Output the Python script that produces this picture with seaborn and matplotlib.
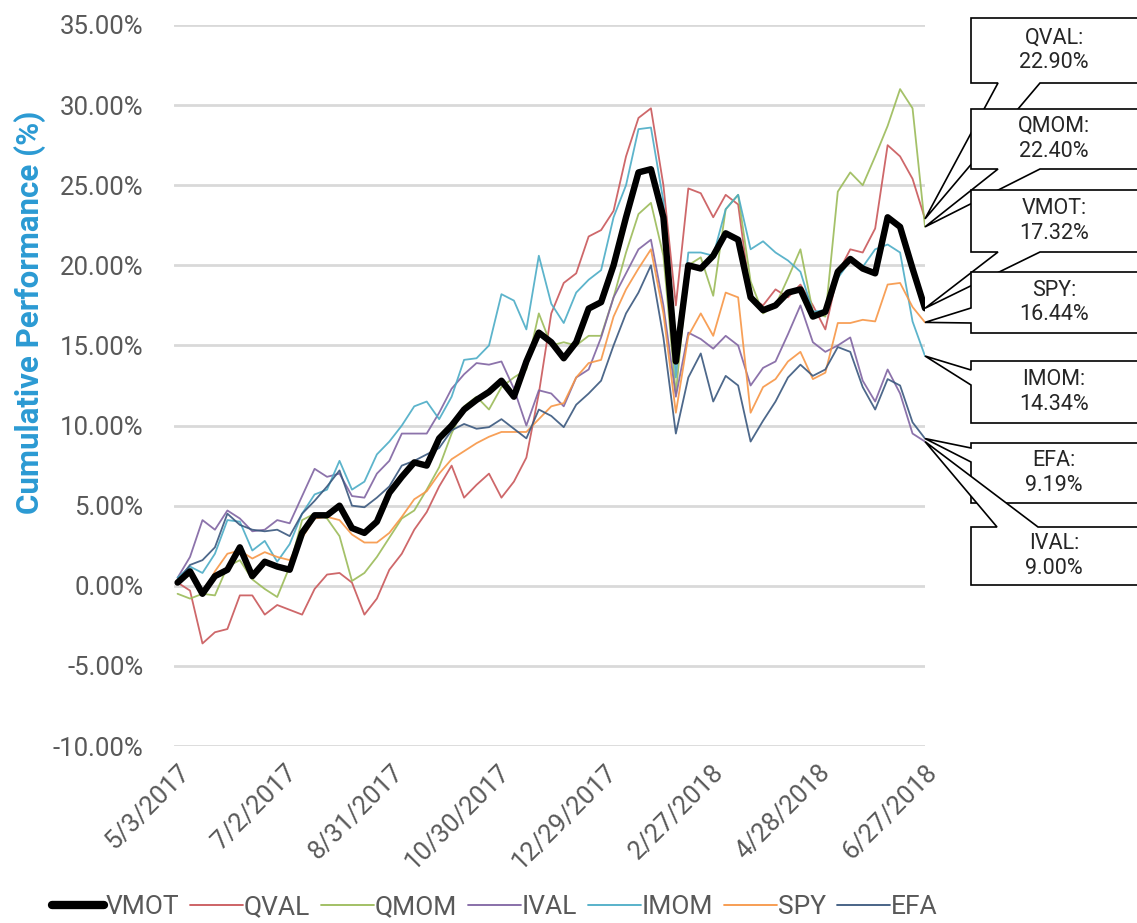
import seaborn as sns
import matplotlib.pyplot as plt
import matplotlib.dates as mdates
from matplotlib.patches import Polygon
from matplotlib.lines import Line2D
import pandas as pd
import numpy as np

# Weekly sampled dates (5/3/2017 .. 6/27/2018)
dates = pd.date_range("2017-05-03", "2018-06-27", freq="7D")

# Cumulative performance (%), one value per week
vmot = [0.2, 0.9, -0.5, 0.6, 1.0, 2.4, 0.6, 1.5, 1.2, 1.0,
        3.3, 4.4, 4.4, 5.0, 3.6, 3.3, 4.0, 5.8, 6.8, 7.7,
        7.5, 9.2, 10.0, 11.0, 11.6, 12.1, 12.8, 11.8, 14.0, 15.8,
        15.2, 14.2, 15.2, 17.3, 17.7, 20.0, 23.0, 25.8, 26.0, 23.0,
        14.0, 20.0, 19.8, 20.6, 22.0, 21.6, 18.0, 17.2, 17.5, 18.3,
        18.5, 16.8, 17.1, 19.6, 20.4, 19.8, 19.5, 23.0, 22.4, 19.8,
        17.32]
qval = [0.2, -0.3, -3.6, -2.9, -2.7, -0.6, -0.6, -1.8, -1.2, -1.5,
        -1.8, -0.2, 0.7, 0.8, 0.2, -1.8, -0.8, 1.0, 2.0, 3.5,
        4.6, 6.2, 7.5, 5.5, 6.3, 7.0, 5.5, 6.5, 8.0, 12.0,
        17.0, 18.9, 19.5, 21.8, 22.2, 23.4, 26.8, 29.2, 29.8, 25.0,
        17.5, 24.8, 24.5, 23.0, 24.4, 23.8, 18.0, 17.5, 18.5, 18.0,
        18.8, 17.5, 16.0, 19.5, 21.0, 20.8, 22.3, 27.5, 26.8, 25.4,
        22.90]
qmom = [-0.5, -0.8, -0.5, -0.6, 1.2, 1.6, 0.4, -0.2, -0.7, 1.2,
        4.1, 4.5, 4.2, 3.1, 0.3, 0.8, 1.8, 3.0, 4.2, 4.7,
        6.0, 7.4, 9.5, 11.2, 11.8, 11.0, 12.4, 13.0, 13.5, 17.0,
        15.0, 15.2, 15.0, 15.6, 15.6, 18.0, 20.8, 23.2, 23.9, 20.6,
        12.0, 20.0, 20.5, 18.1, 23.5, 24.4, 19.0, 17.0, 17.5, 19.2,
        21.0, 17.1, 16.8, 24.6, 25.8, 25.0, 26.8, 28.7, 31.0, 29.8,
        22.40]
ival = [0.5, 1.8, 4.1, 3.5, 4.7, 4.2, 3.4, 3.5, 4.1, 3.9,
        5.6, 7.3, 6.8, 7.0, 5.6, 5.5, 7.0, 7.8, 9.5, 9.5,
        9.5, 10.8, 12.3, 13.2, 13.9, 13.8, 14.0, 12.3, 10.0, 12.2,
        12.0, 11.2, 13.0, 13.5, 15.5, 18.0, 19.5, 21.0, 21.6, 17.5,
        11.8, 15.8, 15.4, 14.8, 15.6, 15.0, 12.5, 13.6, 14.0, 15.7,
        17.5, 15.2, 14.6, 15.0, 15.5, 12.8, 11.5, 13.5, 12.0, 9.5,
        9.00]
imom = [0.5, 1.2, 0.8, 2.0, 4.1, 4.0, 2.2, 2.8, 1.5, 2.6,
        4.5, 5.7, 6.0, 7.8, 6.0, 6.5, 8.2, 9.0, 10.0, 11.2,
        11.5, 10.4, 11.8, 14.1, 14.2, 15.0, 18.2, 17.8, 16.0, 20.6,
        17.6, 16.4, 18.3, 19.1, 19.7, 23.0, 25.0, 28.5, 28.6, 24.0,
        13.0, 20.8, 20.8, 20.6, 23.5, 24.4, 21.0, 21.5, 20.8, 20.3,
        19.6, 17.1, 17.2, 19.2, 20.3, 19.9, 21.0, 21.3, 20.8, 16.5,
        14.34]
spy = [0.2, 0.7, -0.6, 0.9, 2.0, 2.2, 1.7, 2.1, 1.8, 1.6,
       3.0, 4.2, 4.3, 4.1, 3.2, 2.7, 2.7, 3.3, 4.3, 5.4,
       5.9, 7.0, 7.9, 8.4, 8.9, 9.3, 9.6, 9.6, 9.6, 10.4,
       11.2, 11.4, 13.0, 13.9, 14.1, 16.8, 18.5, 19.8, 21.0, 17.0,
       10.8, 15.6, 17.0, 15.6, 18.3, 18.0, 10.8, 12.4, 12.9, 14.0,
       14.6, 12.9, 13.3, 16.4, 16.4, 16.6, 16.5, 18.8, 18.9, 17.4,
       16.44]
efa = [0.3, 1.3, 1.6, 2.4, 4.5, 3.8, 3.5, 3.4, 3.5, 3.1,
       4.5, 5.3, 6.2, 7.2, 5.0, 4.9, 5.5, 6.2, 7.5, 7.8,
       8.2, 8.6, 9.7, 10.1, 9.8, 9.9, 10.4, 9.8, 9.2, 11.0,
       10.6, 9.9, 11.3, 12.0, 12.8, 15.0, 17.0, 18.3, 20.0, 15.5,
       9.5, 13.0, 14.5, 11.5, 13.1, 12.5, 9.0, 10.3, 11.5, 13.0,
       13.8, 13.1, 13.5, 14.9, 14.6, 12.4, 11.0, 12.9, 12.5, 10.2,
       9.19]

series_names = ["VMOT", "QVAL", "QMOM", "IVAL", "IMOM", "SPY", "EFA"]
series_values = [vmot, qval, qmom, ival, imom, spy, efa]
final_labels = ["17.32%", "22.90%", "22.40%", "9.00%", "14.34%", "16.44%", "9.19%"]

tick_dates = ["2017-05-03", "2017-07-02", "2017-08-31", "2017-10-30",
              "2017-12-29", "2018-02-27", "2018-04-28", "2018-06-27"]
tick_labels = ["5/3/2017", "7/2/2017", "8/31/2017", "10/30/2017",
               "12/29/2017", "2/27/2018", "4/28/2018", "6/27/2018"]

colors = {"VMOT": "#000000", "QVAL": "#C9575A", "QMOM": "#9BBB59",
          "IVAL": "#8064A2", "IMOM": "#4BACC6", "SPY": "#F79646",
          "EFA": "#3A587E"}

sns.set_style("white")
plt.rcParams["font.family"] = ["Roboto", "DejaVu Sans"]

W, H = 1137, 923
fig = plt.figure(figsize=(W / 100, H / 100), dpi=100)
ax = fig.add_axes([174 / W, 1 - 746 / H, (925 - 174) / W, (746 - 25) / H])

# thin lines first, VMOT on top
draw_order = ["QVAL", "QMOM", "IVAL", "IMOM", "SPY", "EFA", "VMOT"]
for name in draw_order:
    vals = series_values[series_names.index(name)]
    sns.lineplot(x=dates, y=vals, ax=ax, color=colors[name],
                 linewidth=4.6 if name == "VMOT" else 1.3,
                 alpha=1.0 if name == "VMOT" else 0.9,
                 zorder=5 if name == "VMOT" else 3, legend=False)

ax.set_ylim(-10, 35)
ax.set_yticks(np.arange(-10, 36, 5))
ax.yaxis.set_major_formatter(plt.FuncFormatter(lambda v, p: f"{v:.2f}%"))
ax.set_xlim(pd.Timestamp("2017-05-01"), pd.Timestamp("2018-06-27"))
ax.set_xticks(pd.to_datetime(tick_dates))
ax.set_xticklabels(tick_labels, rotation=45, ha="right",
                   rotation_mode="anchor")
ax.tick_params(axis="y", length=0, pad=22, labelsize=18.5, labelcolor="#595959")
ax.tick_params(axis="x", length=0, pad=10, labelsize=18.5, labelcolor="#595959")
ax.grid(axis="y", color="#D9D9D9", linewidth=2)
ax.grid(axis="x", visible=False)
for s in ax.spines.values():
    s.set_visible(False)
ax.set_xlabel("")
ax.set_ylabel("")

fig.text(30 / W, 1 - 312 / H, "Cumulative Performance (%)", rotation=90,
         ha="center", va="center", fontsize=22.5, fontweight="bold",
         color="#2B9AD3")

# Legend
handles = [Line2D([], [], color=colors[n], linewidth=6 if n == "VMOT" else 1.3)
           for n in series_names]
fig.legend(handles, series_names, loc="center", bbox_to_anchor=(0.435, 0.017),
           ncol=7, frameon=False, fontsize=19, handlelength=2.0,
           handletextpad=0.05, columnspacing=0.4, labelcolor="#595959")

# Callouts (box in figure pixels, tip at the last data point)
fig.canvas.draw()
to_fig = fig.transFigure.inverted()
callouts = [
    ("QVAL", 18, 83, "bottom", (998, 1040)),
    ("QMOM", 109, 169, "bottom", (998, 1040)),
    ("VMOT", 190, 252, "bottom", (998, 1040)),
    ("SPY", 272, 333, "left", (308, 323)),
    ("IMOM", 361, 423, "left", (370, 385)),
    ("EFA", 443, 503, "left", (448, 462)),
    ("IVAL", 527, 585, "top", (997, 1038)),
]
L, R = 971, 1150
for i, (name, top, bot, side, (a, b)) in enumerate(callouts):
    idx = series_names.index(name)
    disp = ax.transData.transform((mdates.date2num(dates[-1]),
                                   series_values[idx][-1]))
    tx, ty = disp[0], H - disp[1]
    if side == "bottom":
        pts = [(L, top), (R, top), (R, bot), (b, bot), (tx, ty), (a, bot), (L, bot)]
    elif side == "left":
        pts = [(L, top), (R, top), (R, bot), (L, bot), (L, b), (tx, ty), (L, a)]
    else:
        pts = [(L, top), (a, top), (tx, ty), (b, top), (R, top), (R, bot), (L, bot)]
    pts_fig = [to_fig.transform((x, H - y)) for x, y in pts]
    poly = Polygon(pts_fig, closed=True, facecolor="white", edgecolor="black",
                   linewidth=1.2, transform=fig.transFigure, zorder=10 + i)
    fig.add_artist(poly)
    fig.text(1054 / W, 1 - (top + bot) / 2 / H,
             f"{name}:\n{final_labels[idx]}", ha="center", va="center",
             fontsize=15.5, color="#262626", linespacing=1.25, zorder=30)

plt.savefig("out.png", dpi=100)
plt.close()
